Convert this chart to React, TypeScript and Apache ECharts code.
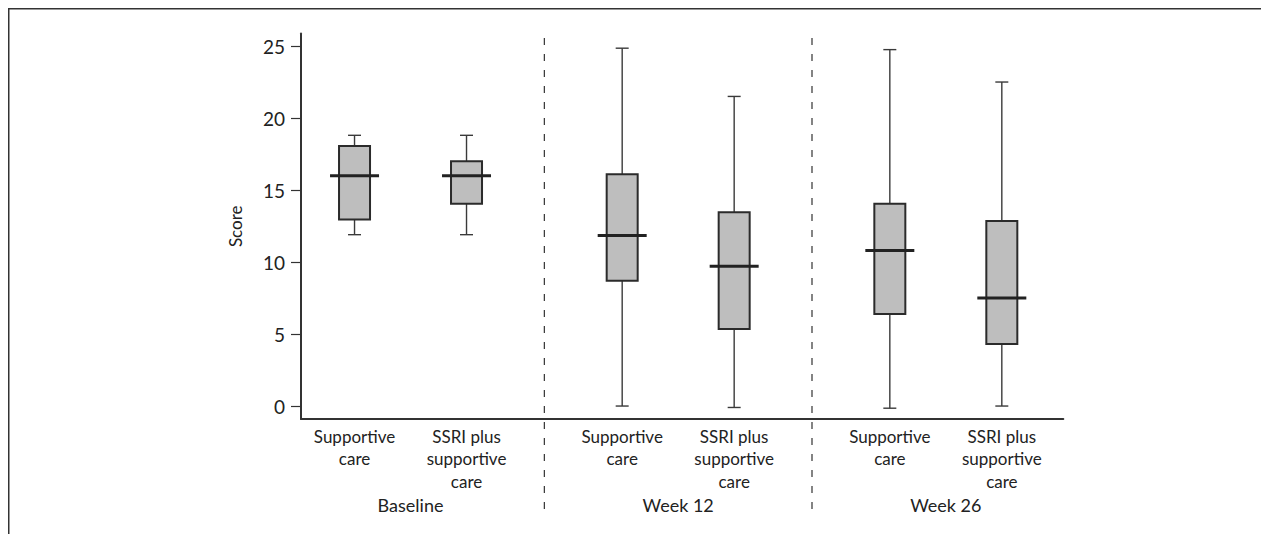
import React, { useEffect, useRef } from "react";
import * as echarts from "echarts";

const groups = ["Baseline", "Week 12", "Week 26"];
const arms = ["Supportive\ncare", "SSRI plus\nsupportive\ncare"];
// one entry per box: Baseline (SC, SSRI), Week 12 (SC, SSRI), Week 26 (SC, SSRI)
const whiskerLow = [11.9, 11.9, 0.0, -0.1, -0.15, 0.0];
const q1 = [12.95, 14.05, 8.7, 5.35, 6.4, 4.3];
const median = [16.0, 16.0, 11.85, 9.7, 10.8, 7.5];
const q3 = [18.05, 17.0, 16.1, 13.45, 14.05, 12.85];
const whiskerHigh = [18.8, 18.8, 24.85, 21.5, 24.75, 22.5];
const yTicks = [0, 5, 10, 15, 20, 25];

const GROUP_GAP = 2.39;
const X_MIN = -0.978;
const X_MAX = 5.829;
const Y_MIN = -0.9;
const Y_MAX = 25.87;
const FONT = "Lato, 'Open Sans', sans-serif";
const TEXT = "#222222";

const positions: number[] = [];
const labels: string[] = [];
groups.forEach((g, gi) => {
  arms.forEach((a, ai) => {
    positions.push(gi * GROUP_GAP + ai - 0.5);
    labels.push(a);
  });
});
const groupCenters = groups.map((_, gi) => gi * GROUP_GAP);
const separators = groups.slice(1).map((_, gi) => (gi + 0.5) * GROUP_GAP);

export default function App() {
  const ref = useRef<HTMLDivElement>(null);
  useEffect(() => {
    if (!ref.current) return;
    const chart = echarts.init(ref.current, null, { renderer: "svg" });
    const boxData = positions.map((p, i) => [p, whiskerLow[i], q1[i], median[i], q3[i], whiskerHigh[i]]);
    const option: any = {
      animation: false,
      backgroundColor: "#ffffff",
      grid: { left: 301, right: 197.7, top: 33.5, bottom: 115, containLabel: false },
      xAxis: [
        {
          type: "value",
          min: X_MIN,
          max: X_MAX,
          position: "bottom",
          axisLine: { show: true, onZero: false, lineStyle: { color: "#333", width: 2 } },
          axisTick: { show: false },
          splitLine: { show: false },
          axisLabel: {
            customValues: positions,
            formatter: (v: number) => {
              const i = positions.findIndex((p) => Math.abs(p - v) < 1e-6);
              return i >= 0 ? labels[i] : "";
            },
            margin: 6,
            fontSize: 17,
            lineHeight: 22.5,
            color: TEXT,
            fontFamily: FONT,
            align: "center",
          },
        },
        {
          type: "value",
          min: X_MIN,
          max: X_MAX,
          position: "bottom",
          offset: 0,
          axisLine: { show: false, onZero: false },
          axisTick: { show: false },
          splitLine: { show: false },
          axisLabel: {
            customValues: groupCenters,
            formatter: (v: number) => {
              const i = groupCenters.findIndex((p) => Math.abs(p - v) < 1e-6);
              return i >= 0 ? groups[i] : "";
            },
            margin: 75,
            fontSize: 18,
            lineHeight: 22,
            color: TEXT,
            fontFamily: FONT,
          },
        },
      ],
      yAxis: {
        type: "value",
        min: Y_MIN,
        max: Y_MAX,
        name: "Score",
        nameLocation: "middle",
        nameGap: 57,
        nameRotate: 90,
        nameTextStyle: { fontSize: 17, color: TEXT, fontFamily: FONT },
        axisLine: { show: true, onZero: false, lineStyle: { color: "#333", width: 2 } },
        axisTick: { show: true, customValues: yTicks, length: 10, inside: false, lineStyle: { color: "#333", width: 1.2 } },
        axisLabel: { customValues: yTicks, margin: 16, fontSize: 19, color: TEXT, fontFamily: FONT },
        splitLine: { show: false },
      },
      graphic: [
        { type: "line", shape: { x1: 8, y1: 8.75, x2: 1261, y2: 8.75 }, style: { stroke: "#333", lineWidth: 1.5 } },
        { type: "line", shape: { x1: 8.75, y1: 8, x2: 8.75, y2: 534 }, style: { stroke: "#333", lineWidth: 1.5 } },
      ],
      series: [
        {
          type: "custom",
          name: "separators",
          clip: false,
          xAxisIndex: 0,
          data: separators.map((s) => [s, 0]),
          encode: { x: 0, y: 1 },
          renderItem: (params: any, api: any) => {
            const x = api.coord([api.value(0), 0])[0];
            return {
              type: "line",
              shape: { x1: x, y1: 38, x2: x, y2: 511 },
              style: { stroke: "#333", lineWidth: 1.2, lineDash: [7, 9] },
            };
          },
        },
        {
          type: "custom",
          name: "boxes",
          clip: false,
          xAxisIndex: 0,
          data: boxData,
          encode: { x: 0, y: [1, 2, 3, 4, 5] },
          renderItem: (params: any, api: any) => {
            const xv = api.value(0);
            const lo = api.coord([xv, api.value(1)]);
            const b1 = api.coord([xv, api.value(2)]);
            const md = api.coord([xv, api.value(3)]);
            const b3 = api.coord([xv, api.value(4)]);
            const hi = api.coord([xv, api.value(5)]);
            const cx = lo[0];
            const ws = { stroke: "#3a3a3a", lineWidth: 1.4 };
            return {
              type: "group",
              children: [
                { type: "line", shape: { x1: cx, y1: hi[1], x2: cx, y2: b3[1] }, style: ws },
                { type: "line", shape: { x1: cx, y1: b1[1], x2: cx, y2: lo[1] }, style: ws },
                { type: "line", shape: { x1: cx - 6.5, y1: hi[1], x2: cx + 6.5, y2: hi[1] }, style: ws },
                { type: "line", shape: { x1: cx - 6.5, y1: lo[1], x2: cx + 6.5, y2: lo[1] }, style: ws },
                {
                  type: "rect",
                  shape: { x: cx - 15.5, y: b3[1], width: 31, height: b1[1] - b3[1] },
                  style: { fill: "#bebebe", stroke: "#2b2b2b", lineWidth: 2 },
                },
                {
                  type: "line",
                  shape: { x1: cx - 24.5, y1: md[1], x2: cx + 24.5, y2: md[1] },
                  style: { stroke: "#222", lineWidth: 3 },
                },
              ],
            };
          },
        },
      ],
    };
    chart.setOption(option);
    return () => chart.dispose();
  }, []);
  return (
    <div
      ref={ref}
      style={{ position: "fixed", left: 0, top: 0, width: 1261, height: 534, background: "#fff" }}
    />
  );
}
